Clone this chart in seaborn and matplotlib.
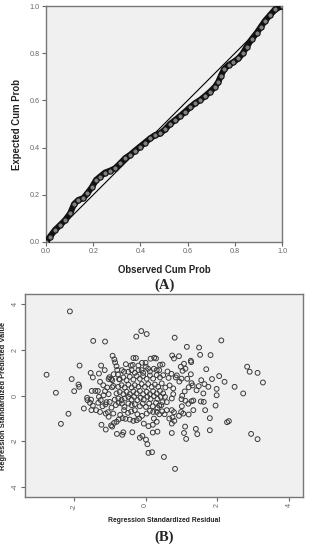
import numpy as np
import pandas as pd
import seaborn as sns
import matplotlib.pyplot as plt

# P-P plot (panel A): observed vs expected cumulative probability
obs_cum = [0.0, 0.017, 0.038, 0.059, 0.081, 0.102, 0.119, 0.137, 0.158, 0.175,
           0.194, 0.212, 0.229, 0.250, 0.271, 0.292, 0.314, 0.335, 0.356, 0.377,
           0.398, 0.419, 0.441, 0.462, 0.483, 0.504, 0.525, 0.547, 0.568, 0.589,
           0.610, 0.631, 0.653, 0.674, 0.695, 0.716, 0.730, 0.740, 0.754, 0.773,
           0.794, 0.815, 0.833, 0.850, 0.871, 0.893, 0.910, 0.928, 0.949, 0.970, 1.0]
exp_cum = [0.0, 0.023, 0.051, 0.071, 0.093, 0.121, 0.161, 0.178, 0.186, 0.206,
           0.232, 0.263, 0.277, 0.294, 0.302, 0.312, 0.333, 0.355, 0.369, 0.387,
           0.404, 0.421, 0.439, 0.453, 0.460, 0.477, 0.500, 0.517, 0.534, 0.552,
           0.571, 0.588, 0.602, 0.619, 0.637, 0.658, 0.679, 0.703, 0.732, 0.750,
           0.763, 0.778, 0.799, 0.828, 0.859, 0.887, 0.912, 0.938, 0.962, 0.986, 1.0]
pp_ticks = [0.0, 0.2, 0.4, 0.6, 0.8, 1.0]

# residual scatter (panel B)
std_resid = [
    -2.11, -2.76, -2.50, -2.36, -2.15, -2.06, -1.99, -1.84, -1.87, -1.85, -1.72,
    -1.46, -1.13, -0.26, -0.12, 0.03, 0.81, 1.15, 1.49, 2.11, 1.52, 1.81, 1.69,
    2.05, 2.20, 1.85, 2.83, 2.90, 3.12, 3.27, 2.48, 2.72, 1.98, 1.98, 1.95, 1.62,
    1.54, 1.66, 1.79, 2.27, 2.32, 1.79, 1.40, 1.44, 1.10, 1.07, 1.13, 0.73, 2.94,
    3.12, 0.51, 0.82, 0.08, 0.18, 0.05, 0.01, -0.16, -0.09, -0.37, 0.20, 0.33,
    -0.80, -0.62, -0.65, -1.23, -1.11, -0.96, -0.93, -1.62, -1.52, -1.55, -1.47,
    -1.51, -1.38, -1.63, -1.50, -1.40, -1.33, -1.53, -1.47, -1.30, -1.24, -1.14,
    -1.13, -1.25, -1.20, -1.12, -1.09, -1.05, -1.03, -1.03, -1.01,
    -0.92, -0.87, -0.85, -0.81, -0.79, -0.96, -0.93, -0.90, -0.93, -0.77, -0.74,
    -0.89, -0.66, -0.60, -0.55, -0.41, -0.34, -0.27, -0.36, -0.20, -0.10, 0.00,
    0.14, 0.24, 0.29, 0.40, 0.47, 0.23, 0.31, 0.01, 0.07, -0.11, -0.07, 0.61,
    0.72, 0.74, 0.79, 0.93, 1.07, 1.11, 0.98, 1.03, 0.87, 1.00, 0.94, 1.16, 1.28,
    1.31, 1.20, 1.26, 1.26, 1.27, 1.02, 1.09, 1.11, 1.28, 1.33, 1.19, 1.00, 1.01,
    0.99, 1.05, 0.93, 0.79, 0.73, 0.75, 0.80, 0.66, 0.73, 0.73, 0.77, 0.77, 0.67,
    0.64, 0.84, 0.55, 0.54, 0.59, 0.44, 0.33, 0.38, 0.23, 0.31, 0.20, 0.08, -0.05,
    -0.18, -0.10, -0.25, -0.34, -0.44, -0.56, -0.64, -0.75, -0.81, -0.88, -0.71,
    -0.60, -0.49, -0.40, -0.30, -0.23, 0.03, 0.12, 0.21, 0.31, 0.46, 0.53, 0.59,
    -0.83, -0.75, -0.66, -0.59, -0.48, -0.39, -0.30, -0.16, -0.08, 0.01, 0.10,
    0.20, 0.29, 0.38, 0.47, -0.86, -0.76, -0.67, -0.58, -0.48, -0.39, -0.32,
    -0.23, -0.14, -0.05, 0.05, 0.14, 0.23, 0.33, 0.42, -0.81, -0.72, -0.62, -0.53,
    -0.44, -0.34, -0.25, -0.16, -0.07, 0.03, 0.12, 0.21, 0.31, 0.40, 0.49, -0.76,
    -0.67, -0.58, -0.48, -0.39, -0.30, -0.20, -0.11, -0.02, 0.07, 0.17, 0.26,
    0.35, 0.45, -0.72, -0.62, -0.53, -0.44, -0.34, -0.25, -0.16, -0.07, 0.03,
    0.12, 0.21, 0.31, 0.40, 0.49, -0.48, -0.39, -0.30, -0.20, 0.12, 0.38,
    -1.27, -1.18, -1.07, -1.30, -1.17, -1.03, -1.32, -1.00, -1.27, -1.11, -0.95,
    -0.90, 1.42, 1.61, 1.75, 1.48, 1.55, 1.64, 1.33, 1.20]
std_pred = [
    3.68, 0.91, 0.12, -1.24, -0.80, 0.72, 0.19, 1.31, 0.48, 0.38, -0.57, 2.39,
    2.36, 2.58, 2.82, 2.69, 2.53, 2.13, 2.10, 2.41, 1.78, 1.77, 1.15, 0.85, 0.60,
    0.72, 1.26, 1.04, 0.99, 0.57, 0.38, 0.09, 0.29, 0.01, -0.44, -0.28, -0.26,
    -0.64, -0.99, -1.17, -1.12, -1.52, -1.46, -1.69, -1.36, -1.64, -1.90, -1.64,
    -1.68, -1.91, -2.69, -3.21, -2.51, -2.48, -2.13, -1.93, -1.85, -1.77, -1.61,
    -1.62, -1.58, -1.68, -1.61, -1.72, -1.28, -1.49, -1.31, -1.36, -0.20, -0.18,
    -0.32, -0.44, -0.64, -0.64, -0.10, 0.20, 0.20, 0.20, 0.99, 0.79, 0.96, 1.31,
    1.11, 0.19, -0.20, -0.47, -0.39, -0.29, -0.73, -0.93, 0.72, 0.80,
    1.74, 1.58, 1.45, 1.28, 1.12, 0.72, 0.67, 0.42, 0.36, 0.92, 0.72, 0.93, 1.11,
    1.04, 1.37, 1.31, 1.64, 1.64, 1.34, 1.31, 1.43, 1.43, 1.61, 1.65, 1.62, 1.34,
    1.36, 1.17, 1.11, 1.26, 1.17, 1.11, 0.99, 1.05, 0.95, 1.75, 1.62, 1.72, 1.39,
    1.17, 1.26, 1.08, 0.88, 0.74, 0.61, 0.73, 0.54, 0.44, 0.36, 0.93, 1.52, 1.46,
    -0.01, 0.18, -0.23, -0.25, -0.22, -0.36, -0.16, -0.47, -0.72, -0.79, -0.89,
    -0.73, -0.64, -0.96, -1.11, -1.01, -1.23, -0.13, 0.06, 0.31, 0.44, 0.77, 0.79,
    0.35, -0.06, -0.29, -0.42, -0.55, -0.82, -1.01, -1.15, -1.28, -1.34, -1.23,
    -1.01, -0.89, -1.08, -1.11, -1.05, -1.02, -0.99, -1.05, -1.15, -1.20, -0.85,
    -0.64, -0.76, -0.70, -0.64, -0.82, -0.79, -0.67, -0.72, -0.72, -0.69, -0.82,
    -0.64, -0.42, -0.32, -0.35, -0.50, -0.35, -0.42, -0.38, -0.47, -0.35, -0.50,
    -0.35, -0.47, -0.32, -0.44, -0.29, -0.18, -0.13, -0.20, -0.13, -0.06, -0.18,
    -0.06, -0.20, -0.10, -0.18, -0.06, -0.15, -0.03, -0.15, -0.06, 0.09, 0.15,
    0.06, 0.16, 0.06, 0.18, 0.09, 0.20, 0.06, 0.16, 0.06, 0.18, 0.09, 0.20, 0.09,
    0.38, 0.45, 0.35, 0.47, 0.35, 0.45, 0.38, 0.50, 0.38, 0.50, 0.38, 0.48, 0.38,
    0.53, 0.70, 0.79, 0.67, 0.82, 0.70, 0.85, 0.73, 0.85, 0.73, 0.88, 0.74, 0.89,
    0.79, 0.89, 1.04, 1.11, 0.99, 1.11, 1.05, 1.11,
    0.60, 0.45, 0.35, -0.06, 0.01, 0.06, -0.32, -0.28, -0.72, -0.79, -0.53,
    -0.79, 0.23, 0.09, 0.38, 0.41, 0.67, 0.50, -0.64, -0.83]
resid_ticks = [-2, 0, 2, 4]
pred_ticks = [-4, -2, 0, 2, 4]

sns.set_style("ticks")
plt.rcParams['font.family'] = ['Liberation Sans', 'DejaVu Sans']

fig = plt.figure(figsize=(3.09, 5.5), dpi=100)
bg = '#f0f0f0'
spine_c = '#777777'
tick_c = '#666666'

# ---- panel A
ax1 = fig.add_axes([0.149, 0.56, 0.764, 0.429])
ax1.set_facecolor(bg)
ax1.plot([0, 1], [0, 1], color='black', lw=0.8, zorder=2)
pp = pd.DataFrame({"obs": obs_cum, "exp": exp_cum})
sns.lineplot(data=pp, x="obs", y="exp", ax=ax1, color='#111111', lw=4.4,
             marker='o', markersize=3.8, markerfacecolor='#808080',
             markeredgecolor='#111111', markeredgewidth=0.8, zorder=3)
ax1.set_xlim(0, 1)
ax1.set_ylim(0, 1)
ax1.set_xticks(pp_ticks)
ax1.set_yticks(pp_ticks)
ax1.set_xticklabels([f"{t:.1f}" for t in pp_ticks])
ax1.set_yticklabels([f"{t:.1f}" for t in pp_ticks])
ax1.set_xlabel("Observed Cum Prob", fontsize=6.9, fontweight='bold', color='#222222')
ax1.set_ylabel("Expected Cum Prob", fontsize=6.9, fontweight='bold', color='#222222')
ax1.xaxis.set_label_coords(0.5, -0.097)
ax1.yaxis.set_label_coords(-0.10, 0.5)
ax1.text(0.5, -0.182, "(A)", transform=ax1.transAxes, ha='center', va='center',
         fontsize=10.5, fontweight='bold', family='Liberation Serif')

# ---- panel B
ax2 = fig.add_axes([0.081, 0.0964, 0.90, 0.369])
ax2.set_facecolor(bg)
sc = pd.DataFrame({"resid": std_resid, "pred": std_pred})
sns.scatterplot(data=sc, x="resid", y="pred", ax=ax2, marker='o', s=12,
                facecolor='none', edgecolor='#3a3a3a', linewidth=0.7)
ax2.set_xlim(-3.36, 4.39)
ax2.set_ylim(-4.44, 4.44)
ax2.set_xticks(resid_ticks)
ax2.set_yticks(pred_ticks)
ax2.set_xticklabels([str(t) for t in resid_ticks], rotation=90)
ax2.set_yticklabels([str(t) for t in pred_ticks], rotation=90, va='center')
ax2.set_xlabel("Regression Standardized Residual", fontsize=4.9, fontweight='bold',
               color='#222222')
ax2.set_ylabel("Regression Standardized Predicted Value", fontsize=5.4, fontweight='bold',
               color='#222222')
ax2.xaxis.set_label_coords(0.5, -0.099)
ax2.yaxis.set_label_coords(-0.065, 0.5)
ax2.text(0.5, -0.20, "(B)", transform=ax2.transAxes, ha='center', va='center',
         fontsize=10.5, fontweight='bold', family='Liberation Serif')

for ax in (ax1, ax2):
    for s in ax.spines.values():
        s.set_color(spine_c)
        s.set_linewidth(1.0)
    ax.tick_params(labelsize=5.2, colors=tick_c, length=3, width=0.8, pad=1.5)

fig.savefig("out.png", dpi=100)
